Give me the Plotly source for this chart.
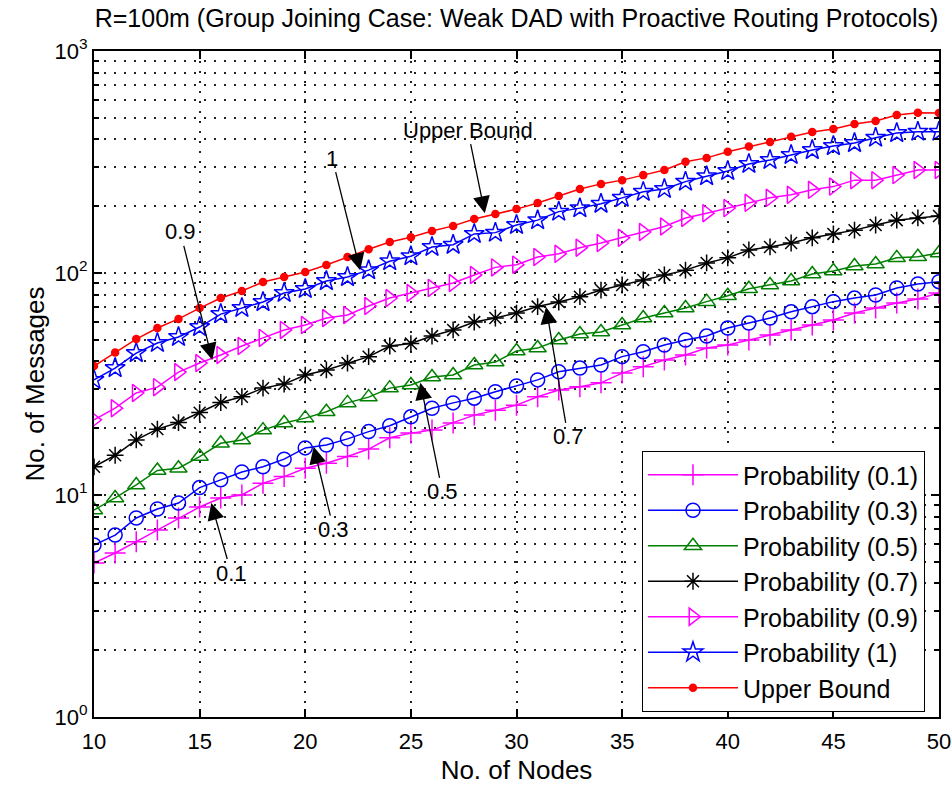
import math
import plotly.graph_objects as go

nodes = list(range(10, 51))

upper_bound = [38.1, 43.8, 50.4, 56.5, 62.1, 69.5, 77.1, 83.0, 91.1, 95.9, 101, 108.6, 118, 128,
               138, 145, 154.6, 163, 175, 184.5, 194, 206.7, 222, 239, 252, 262, 276,
               291, 317, 330, 352, 371, 389, 411, 432, 445, 469, 484, 515, 527, 526]
p_1 = [33, 37.3, 43.6, 48.4, 51.5, 57.1, 65.3, 69.6, 74, 81.3, 84.7, 92, 95.9, 103,
       113, 119, 131, 134, 150, 152, 164.5, 173, 189, 196, 205, 218, 232,
       239, 258, 273, 288, 310, 323, 340, 358, 373, 385, 407, 427, 433, 433]
p_09 = [21.8, 24.6, 28.8, 30.6, 35.8, 39.3, 42.7, 46.9, 51, 55.4, 58.3, 62.7, 64.7, 71,
        77.1, 81.3, 85.6, 90.1, 98, 106, 109, 118, 122, 130, 136.5, 144, 153,
        162, 177, 186, 196, 207, 218, 225, 237, 245, 262, 262, 276, 291, 291]
p_07 = [13.4, 15.1, 17.7, 19.8, 21.2, 23.5, 26.1, 27.7, 30.3, 31.6, 34.7, 36.6, 39.3, 42,
        46.9, 48.1, 52, 55.4, 60.1, 62.7, 66, 70.6, 74, 78.2, 83.8, 88.3, 93,
        98, 103, 111, 117, 127, 131, 136.5, 144, 150, 156, 164.5, 173, 177, 180.6]
p_05 = [8.56, 9.7, 11.1, 12.9, 13.2, 14.9, 17.1, 17.7, 19.6, 21.1,
        22.2, 23.7, 26, 27.6, 30.3, 31.3, 34, 34.7, 38.5, 39.7,
        44.5, 45.9, 49.9, 53.1, 54.2, 58.3, 62.7, 66, 69.6, 74.3, 79,
        85, 88.3, 92, 99, 102, 107.6, 109.8, 117, 118.4, 123]
p_03 = [5.95, 6.6, 7.88, 8.65, 9.2, 10.8, 11.7, 12.7, 13.4, 14.5, 16.3, 16.8, 17.9, 19.3,
        20.5, 22.5, 24.6, 26, 27.3, 29.2, 31, 33, 35.9, 37.3, 38.5, 42, 44.2,
        47.4, 49.9, 52, 56.5, 59.5, 62.7, 66.9, 70.5, 74.3, 77.1, 79.6, 85.6, 89.2, 91.4]
p_01 = [4.94, 5.48, 6.16, 6.96, 7.88, 8.83, 9.69, 10, 11.3, 12.1, 13.2, 13.9, 14.9, 16.1,
        18.1, 19, 19.6, 21.1, 22.9, 24.1, 25.4, 27.7, 29.7, 30.7, 32, 35.4, 37.8,
        40.6, 42.7, 45.9, 47.4, 49.9, 52.6, 55.4, 58.3, 61.4, 66, 69.6, 73.3, 76.3, 81.3]

series_names = ["Probability (0.1)", "Probability (0.3)", "Probability (0.5)",
                "Probability (0.7)", "Probability (0.9)", "Probability (1)", "Upper Bound"]
series_values = [p_01, p_03, p_05, p_07, p_09, p_1, upper_bound]
series_colors = ["#FF00FF", "#0000FF", "#008000", "#000000", "#FF00FF", "#0000FF", "#FF0000"]
series_symbols = ["cross-thin", "circle-open", "triangle-up-open", "asterisk-open",
                  "triangle-right-open", "star-open", "circle"]
series_sizes = [15, 14, 15, 14, 15, 15, 7]

# annotation labels: text, x, y (data), ax, ay (pixel offsets of text from arrow tip)
ann_text = ["Upper Bound", "1", "0.9", "0.7", "0.5", "0.3", "0.1"]
ann_x = [28.5, 22.6, 15.6, 31.4, 25.45, 20.4, 15.55]
ann_y = [186, 103, 40.6, 70.3, 32, 16.5, 9.2]
ann_ax = [-17, -28, -32, 22, 22, 20, 20]
ann_ay = [-83, -112, -128, 130, 109, 83, 70]

fig = go.Figure()
for name, vals, col, sym, sz in zip(series_names, series_values, series_colors,
                                    series_symbols, series_sizes):
    fig.add_trace(go.Scatter(
        x=nodes, y=vals, name=name, mode="lines+markers",
        legendgroup=name,
        line=dict(color=col, width=1.5),
        marker=dict(symbol=sym, size=sz, color=col, line=dict(color=col, width=1.5)),
    ))

for t, x, y, ax, ay in zip(ann_text, ann_x, ann_y, ann_ax, ann_ay):
    fig.add_annotation(x=x, y=math.log10(y), yref="y", xref="x", text=t, showarrow=True,
                       ax=ax, ay=ay, arrowhead=2, arrowsize=2.6, arrowwidth=1.3,
                       arrowcolor="black", font=dict(size=22, color="black"))

font_family = "Liberation Sans, Arial, sans-serif"
grid_col = "#222222"
grid_dash = "2px,8px"

y_tickvals = [1, 10, 100, 1000]
y_ticktext = ["10<sup>0</sup>", "10<sup>1</sup>", "10<sup>2</sup>", "10<sup>3</sup>"]
y_minor = [m * 10 ** e for e in range(0, 3) for m in range(2, 10)]

fig.update_layout(
    width=952, height=785,
    margin=dict(l=94, r=13, t=51, b=68, autoexpand=False),
    paper_bgcolor="white", plot_bgcolor="white",
    font=dict(family=font_family, size=22, color="black"),
    title=dict(text="R=100m (Group Joining Case: Weak DAD with Proactive Routing Protocols)",
               x=0.5, xref="paper", xanchor="center", y=0.977, yref="container",
               yanchor="middle", font=dict(size=25), automargin=False),
    showlegend=True,
    legend=dict(x=0.6485, y=0.0075, xanchor="left", yanchor="bottom",
                bordercolor="black", borderwidth=1, bgcolor="white",
                font=dict(size=25), tracegroupgap=0, itemwidth=90),
    xaxis=dict(range=[10, 50], tickvals=[10, 15, 20, 25, 30, 35, 40, 45, 50],
               showgrid=True, gridcolor=grid_col, griddash=grid_dash, gridwidth=1.5,
               ticks="inside", ticklen=8, tickcolor="black", tickwidth=1.5,
               showline=True, linecolor="black", linewidth=2, mirror="allticks",
               zeroline=False, ticklabelstandoff=4, automargin=False,
               title=dict(text="No. of Nodes", standoff=14)),
    yaxis=dict(type="log", range=[0, 3], tickvals=y_tickvals, ticktext=y_ticktext,
               showgrid=True, gridcolor=grid_col, griddash=grid_dash, gridwidth=1.5,
               ticks="inside", ticklen=8, tickcolor="black", tickwidth=1.5,
               showline=True, linecolor="black", linewidth=2, mirror="allticks",
               zeroline=False, automargin=False,
               minor=dict(tickvals=y_minor, showgrid=True, gridcolor=grid_col,
                          griddash=grid_dash, gridwidth=1.5, ticks="inside", ticklen=5,
                          tickcolor="black"),
               title=dict(text="No. of Messages", standoff=2)),
)

fig.write_html("out.html")
